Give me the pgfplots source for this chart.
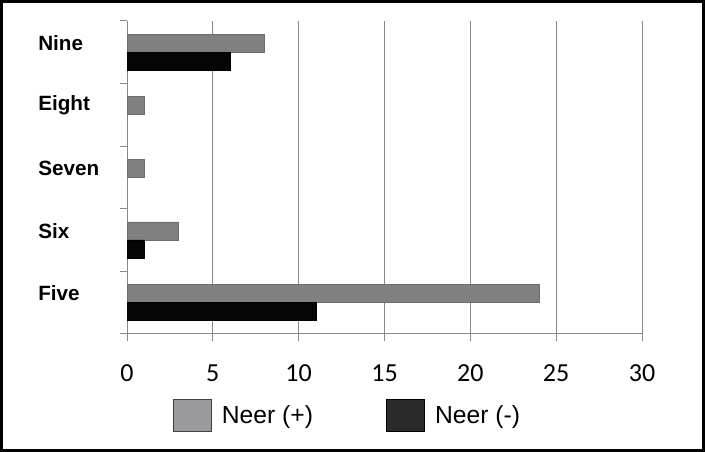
\documentclass[border=0pt]{standalone}
\usepackage{fontspec}
\setmainfont{Liberation Sans}
\newfontfamily\calib{Carlito}
\usepackage{pgfplots}
\pgfplotsset{compat=1.18}
\definecolor{barplus}{RGB}{128,128,128}
\definecolor{barminus}{RGB}{5,5,5}
\definecolor{legplus}{RGB}{155,155,159}
\definecolor{legminus}{RGB}{43,43,43}
\definecolor{gridgray}{RGB}{136,136,136}

\begin{document}
\begin{tikzpicture}[x=1pt,y=1pt]
\useasboundingbox (0,0) rectangle (528.75,339);
\fill[white] (0,0) rectangle (528.75,339);
\draw[black,line width=2.25pt] (1.125,1.125) rectangle (527.625,337.875);
\begin{axis}[
    at={(95.25pt,88.5pt)}, anchor=south west,
    scale only axis, width=386.25pt, height=234.75pt,
    xmin=0, xmax=30, ymin=-0.5, ymax=4.5,
    xbar, bar width=13.5pt,
    axis x line*=bottom, axis y line*=left,
    axis line style={gridgray, line width=0.75pt, -},
    xtick={0,5,...,30},
    ytick={-0.5,0.5,...,4.5}, yticklabels={},
    extra y ticks={0.15,1.15,2.15,3.15,4.15},
    extra y tick labels={Five,Six,Seven,Eight,Nine},
    extra y tick style={major tick length=0pt, grid=none,
        tick label style={anchor=west, xshift=-66.75pt, inner sep=0pt,
            font=\fontsize{15.5}{18}\selectfont\bfseries}},
    tick align=outside, major tick length=5.5pt,
    tick style={gridgray, line width=0.75pt},
    xmajorgrids, major grid style={gridgray, line width=0.75pt},
    xticklabel style={font=\calib\fontsize{19.5}{22}\selectfont, yshift=-14pt,
        /pgf/number format/assume math mode=true},
    legend style={at={(0.0893,-0.26)}, anchor=west, draw=none, fill=none,
        inner sep=0pt, legend columns=2, font=\fontsize{18.5}{22}\selectfont,
        /tikz/every odd column/.append style={column sep=5.25pt},
        /tikz/every even column/.append style={column sep=53pt}},
    legend cell align=left,
]
\addplot[fill=barplus, draw=barplus!85!black, bar shift=6.9pt, forget plot]
    coordinates {(24,0) (3,1) (1,2) (1,3) (8,4)};
\addplot[fill=barminus, draw=black, bar shift=-6.6pt, forget plot]
    coordinates {(11,0) (1,1) (6,4)};

\addlegendimage{legend image code/.code={\draw[fill=legplus,draw=black!75,line width=0.75pt] (0pt,-12pt) rectangle (28.5pt,12pt);}}
\addlegendentry{Neer (+)}
\addlegendimage{legend image code/.code={\draw[fill=legminus,draw=black,line width=0.75pt] (0pt,-12pt) rectangle (28.5pt,12pt);}}
\addlegendentry{Neer (-)}
\end{axis}
\end{tikzpicture}
\end{document}
